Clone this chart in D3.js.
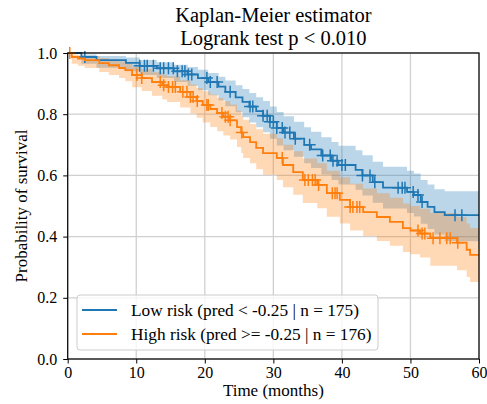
<!DOCTYPE html>
<html><head><meta charset="utf-8">
<script src="https://cdn.jsdelivr.net/npm/d3@7"></script>
<style>body{margin:0;background:#fff}svg{display:block}text{font-family:"Liberation Serif","Times New Roman",serif;fill:#000}</style>
</head><body><svg id="c" width="487" height="404"></svg>
<script>
// ---- data ----
const lowT  = [0,2,4.2,8.5,10.5,13,15.5,17.5,19,20.5,22,23,24.5,25.5,26.5,27.5,28.5,29.5,30.5,31.5,33,34.5,35.5,37,38.5,39.5,42,43,44.5,46,49.5,50.5,51.5,52.5,53.5,55,60];
const lowS  = [1,0.987,0.977,0.968,0.958,0.95,0.94,0.93,0.918,0.905,0.89,0.873,0.855,0.84,0.825,0.81,0.795,0.775,0.755,0.74,0.72,0.70,0.685,0.665,0.648,0.634,0.618,0.60,0.578,0.56,0.546,0.536,0.513,0.497,0.48,0.47,0.47];
const lowLo = [1,0.965,0.952,0.94,0.928,0.918,0.905,0.893,0.878,0.862,0.845,0.826,0.806,0.79,0.773,0.757,0.741,0.72,0.698,0.682,0.661,0.64,0.624,0.603,0.585,0.57,0.553,0.534,0.511,0.492,0.477,0.466,0.442,0.425,0.407,0.385,0.385];
const lowHi = [1,0.995,0.99,0.985,0.977,0.97,0.962,0.954,0.945,0.935,0.922,0.91,0.895,0.882,0.869,0.855,0.843,0.825,0.807,0.793,0.775,0.757,0.743,0.725,0.709,0.697,0.682,0.666,0.645,0.628,0.615,0.606,0.585,0.57,0.555,0.548,0.548];
const lowCens = [2.5,10.5,11.2,11.6,12.5,13.5,14,14.7,15.4,16,16.7,17.1,17.6,18.1,20.3,20.8,21.8,23.7,26.6,27,28.5,29.1,29.5,30,30.5,31.3,31.7,32.4,33.2,35.3,37.2,38.3,38.7,39.3,40,40.5,43,44.1,44.8,48.2,48.8,49.2,50.4,51.1,51.7,56.5,57.5];

const highT  = [0,0.6,1.5,2.5,4.6,6,7.5,8.4,9.4,10.8,12.3,13.8,14.5,16.4,17.9,18.8,19.7,20.8,21.8,22.7,23.7,24.7,25.3,25.6,26.6,27.5,28.5,30.5,31.4,32.9,34.3,36.4,37.8,39.7,41.2,43.1,45.1,47,48.9,50,51.4,52.9,56.8,58.2,58.7,60];
const highS  = [1,0.987,0.982,0.977,0.967,0.96,0.951,0.944,0.928,0.918,0.905,0.895,0.889,0.873,0.856,0.843,0.83,0.817,0.804,0.792,0.78,0.758,0.74,0.725,0.709,0.69,0.673,0.657,0.634,0.611,0.585,0.569,0.542,0.52,0.497,0.48,0.464,0.448,0.428,0.42,0.41,0.395,0.38,0.357,0.34,0.34];
const highLo = [1,0.965,0.958,0.951,0.938,0.928,0.918,0.908,0.888,0.876,0.86,0.848,0.84,0.822,0.802,0.788,0.773,0.758,0.744,0.73,0.717,0.693,0.673,0.657,0.64,0.62,0.602,0.585,0.561,0.537,0.51,0.493,0.465,0.443,0.42,0.402,0.386,0.37,0.35,0.342,0.332,0.305,0.29,0.268,0.252,0.252];
const highHi = [1,0.995,0.993,0.99,0.984,0.979,0.972,0.967,0.955,0.947,0.937,0.929,0.924,0.911,0.897,0.886,0.875,0.864,0.853,0.842,0.832,0.812,0.796,0.782,0.768,0.751,0.736,0.721,0.70,0.679,0.655,0.64,0.615,0.594,0.573,0.557,0.542,0.527,0.508,0.50,0.491,0.477,0.464,0.443,0.428,0.428];
const highCens = [0.3,10.1,10.8,13.5,14,14.7,15.3,15.7,16.8,17.4,17.9,18.3,18.9,20.3,20.5,22.5,23,23.4,23.7,25.4,31.3,34.6,35.1,35.7,36.1,36.6,38.6,39,39.3,41.2,41.6,42.2,42.6,51.1,51.7,52.1,53.3,54.3,55.3,55.8,56.9];

const xTicks = [0,10,20,30,40,50,60];
const yTicks = [0,0.2,0.4,0.6,0.8,1.0];
const titleLines = ["Kaplan-Meier estimator","Logrank test p < 0.010"];
const labels = ["Low risk (pred < -0.25 | n = 175)","High risk (pred >= -0.25 | n = 176)"];
const colors = ["#1f77b4","#ff7f0e"];

// ---- layout ----
const L=67.7,R=479,T=53,B=359;
const svg=d3.select("#c");
const x=d3.scaleLinear().domain([0,60]).range([L,R]);
const y=d3.scaleLinear().domain([0,1]).range([B,T]);

// grid
svg.append("g").selectAll("line").data(xTicks).join("line")
  .attr("x1",d=>x(d)).attr("x2",d=>x(d)).attr("y1",T).attr("y2",B)
  .attr("stroke","#d0d0d0").attr("stroke-width",1.3);
svg.append("g").selectAll("line").data(yTicks).join("line")
  .attr("x1",L).attr("x2",R).attr("y1",d=>y(d)).attr("y2",d=>y(d))
  .attr("stroke","#d0d0d0").attr("stroke-width",1.3);

svg.append("clipPath").attr("id","clip").append("rect").attr("x",L).attr("y",T-8).attr("width",R-L).attr("height",B-T+8);
const plot=svg.append("g").attr("clip-path","url(#clip)");

const series=[
  {t:lowT,s:lowS,lo:lowLo,hi:lowHi,c:lowCens,col:colors[0]},
  {t:highT,s:highS,lo:highLo,hi:highHi,c:highCens,col:colors[1]}
];
series.forEach(sr=>{
  const pts=sr.t.map((t,i)=>({t,s:sr.s[i],lo:sr.lo[i],hi:sr.hi[i]}));
  const area=d3.area().curve(d3.curveStepAfter).x(d=>x(d.t)).y0(d=>y(d.lo)).y1(d=>y(d.hi));
  plot.append("path").datum(pts).attr("d",area).attr("fill",sr.col).attr("fill-opacity",0.3);
});
series.forEach(sr=>{
  const pts=sr.t.map((t,i)=>({t,s:sr.s[i]}));
  const line=d3.line().curve(d3.curveStepAfter).x(d=>x(d.t)).y(d=>y(d.s));
  plot.append("path").datum(pts).attr("d",line).attr("fill","none").attr("stroke",sr.col).attr("stroke-width",1.8);
  const bis=d3.bisector(d=>d).right;
  const g=plot.append("g").attr("stroke",sr.col).attr("stroke-width",1.5);
  sr.c.forEach(ct=>{
    const i=Math.max(0,bis(sr.t,ct)-1);
    const cx=x(ct),cy=y(sr.s[i]);
    g.append("line").attr("x1",cx-6).attr("x2",cx+6).attr("y1",cy).attr("y2",cy);
    g.append("line").attr("x1",cx).attr("x2",cx).attr("y1",cy-6).attr("y2",cy+6);
  });
});

// axes
const xa=svg.append("g").attr("transform",`translate(0,${B})`)
  .call(d3.axisBottom(x).tickValues(xTicks).tickFormat(d3.format("d")).tickSize(4.5).tickPadding(3));
const ya=svg.append("g").attr("transform",`translate(${L},0)`)
  .call(d3.axisLeft(y).tickValues(yTicks).tickFormat(d3.format(".1f")).tickSize(4.5).tickPadding(6));
[xa,ya].forEach(a=>{a.select(".domain").remove();a.selectAll("text").attr("font-size",16).attr("fill","#000").attr("font-family","Liberation Serif");a.selectAll("line").attr("stroke","#000").attr("stroke-width",1);});
svg.append("rect").attr("x",L).attr("y",T).attr("width",R-L).attr("height",B-T)
  .attr("fill","none").attr("stroke","#000").attr("stroke-width",1.2);

// titles / labels
svg.selectAll("text.title").data(titleLines).join("text").attr("class","title")
  .attr("x",(L+R)/2).attr("y",(d,i)=>22+i*23).attr("text-anchor","middle").attr("font-size",20.5).text(d=>d);
svg.append("text").attr("x",(L+R)/2).attr("y",396).attr("text-anchor","middle").attr("font-size",17).text("Time (months)");
svg.append("text").attr("transform",`translate(27,${(T+B)/2}) rotate(-90)`).attr("text-anchor","middle").attr("font-size",17).text("Probability of survival");

// legend
const lg=svg.append("g");
lg.append("rect").attr("x",77).attr("y",295).attr("width",301).attr("height",55).attr("rx",3)
  .attr("fill","#fff").attr("fill-opacity",0.8).attr("stroke","#cccccc").attr("stroke-width",1);
labels.forEach((lab,i)=>{
  const yy=310+i*24;
  lg.append("line").attr("x1",82).attr("x2",117).attr("y1",yy).attr("y2",yy).attr("stroke",colors[i]).attr("stroke-width",1.8);
  lg.append("text").attr("x",131).attr("y",yy+5.5).attr("font-size",17.3).text(lab);
});
</script></body></html>
